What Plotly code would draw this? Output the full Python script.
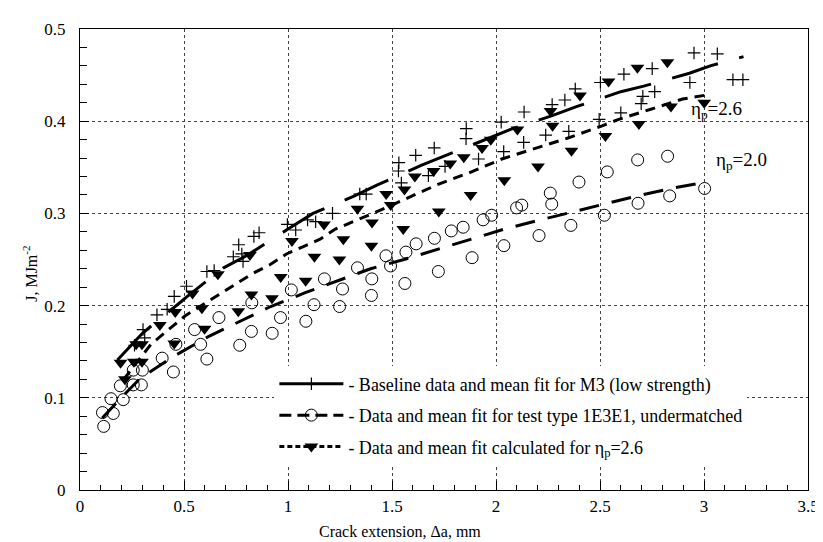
import plotly.graph_objects as go

# ---------------- data ----------------
# Baseline M3 (low strength) data, "+"
base_x = [0.262, 0.303, 0.311, 0.370, 0.419, 0.453, 0.512, 0.610, 0.645, 0.737, 0.763,
          0.778, 0.784, 0.836, 0.861, 0.997, 1.037, 1.094, 1.133, 1.214, 1.345, 1.376,
          1.531, 1.533, 1.545, 1.614, 1.675, 1.703, 1.755, 1.856, 1.857, 1.916, 2.025,
          2.037, 2.133, 2.135, 2.239, 2.270, 2.331, 2.350, 2.381, 2.496, 2.502, 2.600,
          2.615, 2.698, 2.706, 2.751, 2.763, 2.932, 2.952, 3.064, 3.139, 3.187]
base_y = [0.157, 0.174, 0.165, 0.190, 0.196, 0.210, 0.221, 0.237, 0.238, 0.253, 0.266,
          0.256, 0.248, 0.275, 0.279, 0.288, 0.282, 0.293, 0.291, 0.300, 0.321, 0.321,
          0.346, 0.355, 0.333, 0.363, 0.341, 0.371, 0.351, 0.381, 0.392, 0.359, 0.399,
          0.367, 0.377, 0.410, 0.385, 0.418, 0.423, 0.389, 0.435, 0.402, 0.442, 0.409,
          0.451, 0.419, 0.427, 0.457, 0.432, 0.442, 0.474, 0.473, 0.445, 0.445]

# Baseline mean fit (solid)
base_fit_x = [0.18, 0.30, 0.49, 0.51, 0.69, 0.80, 1.00, 1.12, 1.32, 1.43, 1.64, 1.75,
              1.98, 2.08, 2.27, 2.39, 2.60, 2.71, 2.93, 3.03, 3.19]
base_fit_y = [0.141, 0.170, 0.205, 0.209, 0.241, 0.254, 0.283, 0.300, 0.319, 0.331, 0.352,
              0.362, 0.383, 0.392, 0.406, 0.416, 0.432, 0.438, 0.452, 0.460, 0.470]

# Test type 1E3E1, undermatched, circles
ud_x = [0.108, 0.114, 0.149, 0.160, 0.194, 0.208, 0.256, 0.256, 0.295, 0.300, 0.395,
        0.449, 0.461, 0.551, 0.580, 0.610, 0.668, 0.768, 0.824, 0.826, 0.924, 0.964,
        1.016, 1.086, 1.125, 1.175, 1.248, 1.262, 1.334, 1.401, 1.403, 1.471, 1.493,
        1.562, 1.567, 1.616, 1.704, 1.723, 1.785, 1.842, 1.885, 1.938, 1.979, 2.038,
        2.099, 2.124, 2.207, 2.261, 2.268, 2.360, 2.399, 2.521, 2.535, 2.681, 2.683,
        2.825, 2.835, 3.003]
ud_y = [0.084, 0.069, 0.099, 0.083, 0.113, 0.098, 0.130, 0.114, 0.114, 0.130, 0.143,
        0.128, 0.158, 0.174, 0.158, 0.142, 0.187, 0.157, 0.172, 0.203, 0.170, 0.187,
        0.217, 0.183, 0.201, 0.229, 0.199, 0.218, 0.241, 0.211, 0.229, 0.254, 0.243,
        0.224, 0.258, 0.267, 0.273, 0.237, 0.281, 0.285, 0.252, 0.293, 0.298, 0.265,
        0.306, 0.309, 0.276, 0.322, 0.310, 0.287, 0.334, 0.298, 0.345, 0.358, 0.311,
        0.362, 0.319, 0.327]

# 1E3E1 mean fit (long dash)
ud_fit_x = [0.107, 0.181, 0.289, 0.451, 0.622, 0.759, 0.917, 1.083, 1.244, 1.397, 1.558,
            1.719, 1.883, 2.041, 2.197, 2.354, 2.518, 2.679, 2.840, 2.984]
ud_fit_y = [0.078, 0.096, 0.121, 0.145, 0.167, 0.182, 0.199, 0.214, 0.227, 0.240, 0.250,
            0.261, 0.273, 0.283, 0.292, 0.301, 0.310, 0.319, 0.327, 0.333]

# Data calculated for eta_p = 2.6, filled down-triangles
eta_x = [0.195, 0.216, 0.259, 0.298, 0.270, 0.298, 0.384, 0.453, 0.458, 0.541, 0.586,
         0.599, 0.663, 0.761, 0.817, 0.824, 0.923, 0.965, 1.019, 1.085, 1.127, 1.173,
         1.247, 1.266, 1.334, 1.401, 1.404, 1.472, 1.494, 1.554, 1.560, 1.610, 1.700,
         1.725, 1.780, 1.845, 1.878, 1.933, 1.975, 2.040, 2.103, 2.202, 2.262, 2.272,
         2.363, 2.404, 2.526, 2.541, 2.680, 2.687, 2.824, 2.841, 3.001]
eta_y = [0.138, 0.120, 0.139, 0.139, 0.158, 0.158, 0.179, 0.159, 0.193, 0.213, 0.197,
         0.175, 0.234, 0.194, 0.255, 0.212, 0.208, 0.231, 0.270, 0.227, 0.253, 0.288,
         0.250, 0.272, 0.305, 0.265, 0.290, 0.321, 0.309, 0.283, 0.326, 0.340, 0.346,
         0.302, 0.354, 0.361, 0.320, 0.371, 0.380, 0.336, 0.391, 0.351, 0.411, 0.395,
         0.368, 0.428, 0.384, 0.443, 0.458, 0.397, 0.464, 0.416, 0.420]

# eta_p = 2.6 mean fit (short dash)
eta_fit_x = [0.21, 0.341, 0.506, 0.668, 0.831, 0.911, 0.993, 1.074, 1.154, 1.228, 1.317,
             1.397, 1.479, 1.624, 1.716, 1.882, 2.028, 2.181, 2.349, 2.510, 2.590, 2.744,
             2.897, 3.002]
eta_fit_y = [0.120, 0.158, 0.189, 0.212, 0.235, 0.244, 0.256, 0.264, 0.272, 0.283, 0.291,
             0.299, 0.307, 0.322, 0.331, 0.345, 0.359, 0.370, 0.382, 0.395, 0.402, 0.413,
             0.424, 0.428]

x_ticks = [0, 0.5, 1, 1.5, 2, 2.5, 3, 3.5]
x_tick_text = ["0", "0.5", "1", "1.5", "2", "2.5", "3", "3.5"]
y_ticks = [0, 0.1, 0.2, 0.3, 0.4, 0.5]
y_tick_text = ["0", "0.1", "0.2", "0.3", "0.4", "0.5"]

legend_names = ["- Baseline data and mean fit for M3 (low strength)",
                "- Data and mean fit for test type 1E3E1, undermatched",
                "- Data and mean fit calculated for η<sub>p</sub>=2.6"]
x_title = "Crack extension, Δa, mm"
y_title = "J, MJm<sup>-2</sup>"

# ---------------- figure ----------------
FONT = "Liberation Serif"
fig = go.Figure()

fig.add_trace(go.Scatter(x=base_fit_x, y=base_fit_y, mode="lines", showlegend=False,
                         line=dict(color="black", width=3, dash="48px,22px")))
fig.add_trace(go.Scatter(x=base_x, y=base_y, mode="markers", showlegend=False,
                         marker=dict(symbol="cross-thin-open", size=9, color="black",
                                     line=dict(color="black", width=1.2))))

fig.add_trace(go.Scatter(x=ud_fit_x, y=ud_fit_y, mode="lines", showlegend=False,
                         line=dict(color="black", width=3, dash="20px,13px")))
fig.add_trace(go.Scatter(x=ud_x, y=ud_y, mode="markers", showlegend=False,
                         marker=dict(symbol="circle-open", size=12, color="black",
                                     line=dict(color="black", width=1))))

fig.add_trace(go.Scatter(x=eta_fit_x, y=eta_fit_y, mode="lines", showlegend=False,
                         line=dict(color="black", width=3, dash="10px,7px")))
fig.add_trace(go.Scatter(x=eta_x, y=eta_y, mode="markers", showlegend=False,
                         marker=dict(symbol="triangle-down", size=12, color="black")))

# legend entries
fig.add_trace(go.Scatter(x=[None], y=[None], mode="lines+markers", name=legend_names[0],
                         legendgroup="a",
                         line=dict(color="black", width=3),
                         marker=dict(symbol="cross-thin-open", size=9, color="black",
                                     line=dict(color="black", width=1.2))))
fig.add_trace(go.Scatter(x=[None], y=[None], mode="lines+markers", name=legend_names[1],
                         legendgroup="b",
                         line=dict(color="black", width=3, dash="12px,6px"),
                         marker=dict(symbol="circle-open", size=12, color="black",
                                     line=dict(color="black", width=1))))
fig.add_trace(go.Scatter(x=[None], y=[None], mode="lines+markers", name=legend_names[2],
                         legendgroup="c",
                         line=dict(color="black", width=3, dash="5px,3px"),
                         marker=dict(symbol="triangle-down", size=12, color="black")))

axis_common = dict(showline=True, linecolor="black", linewidth=1, mirror=True,
                   ticks="inside", tickcolor="black", tickwidth=1,
                   showgrid=True, gridcolor="#444", griddash="dot", gridwidth=1,
                   zeroline=False, tickfont=dict(family=FONT, size=17, color="black"))

fig.update_xaxes(range=[0, 3.5], tickvals=x_ticks, ticktext=x_tick_text, ticklen=9,
                 ticklabelstandoff=1,
                 minor=dict(ticks="inside", dtick=0.1, ticklen=5, tickcolor="black",
                            showgrid=False),
                 **axis_common)
fig.update_yaxes(range=[0, 0.5], tickvals=y_ticks, ticktext=y_tick_text, ticklen=9,
                 ticklabelstandoff=10,
                 minor=dict(ticks="inside", dtick=0.02, ticklen=7, tickcolor="black",
                            showgrid=False),
                 **axis_common)

# axis titles (placed as in the reference)
fig.add_annotation(x=0.44, y=-0.09, xref="paper", yref="paper", xanchor="center",
                   yanchor="middle", text=x_title, showarrow=False,
                   font=dict(family=FONT, size=16, color="black"))
fig.add_annotation(x=-0.068, y=0.47, xref="paper", yref="paper", xanchor="center",
                   yanchor="middle", text=y_title, showarrow=False, textangle=-90,
                   font=dict(family=FONT, size=16, color="black"))

fig.add_annotation(x=2.93, y=0.412, xref="x", yref="y", xanchor="left", yanchor="middle",
                   text="η<sub>p</sub>=2.6", showarrow=False,
                   font=dict(family=FONT, size=19, color="black"))
fig.add_annotation(x=3.05, y=0.357, xref="x", yref="y", xanchor="left", yanchor="middle",
                   text="η<sub>p</sub>=2.0", showarrow=False,
                   font=dict(family=FONT, size=19, color="black"))

fig.update_layout(
    width=823, height=542,
    margin=dict(l=72, r=18, t=16, b=60),
    plot_bgcolor="white", paper_bgcolor="white",
    font=dict(family=FONT, size=17, color="black"),
    legend=dict(x=0.267, y=0.27, xanchor="left", yanchor="top",
                bgcolor="white", borderwidth=0, itemwidth=64,
                traceorder="grouped", tracegroupgap=5,
                font=dict(family=FONT, size=18, color="black")),
)

fig.write_html("out.html")
